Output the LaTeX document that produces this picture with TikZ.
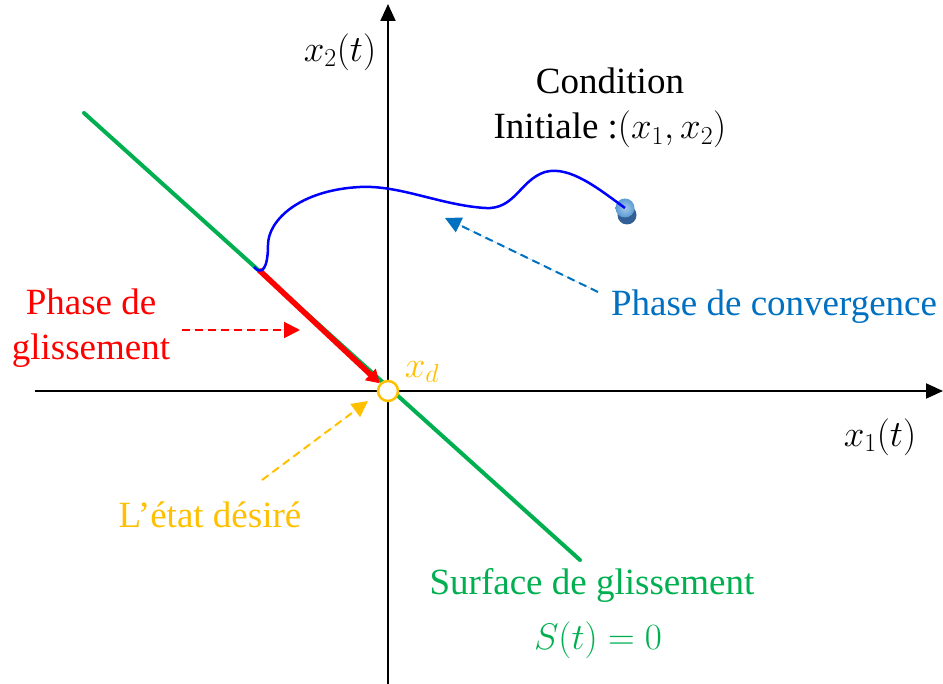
\RequirePackage{fix-cm}
\documentclass[tikz,border=0pt]{standalone}
\usepackage{fontspec}
\setmainfont{Liberation Serif}
\usepackage{tikz}
\usetikzlibrary{arrows.meta,positioning,shadings}
\definecolor{slidered}{RGB}{255,0,0}
\definecolor{surfgreen}{RGB}{0,176,80}
\definecolor{trajblue}{RGB}{0,0,255}
\definecolor{convblue}{RGB}{0,112,192}
\definecolor{goalorange}{RGB}{255,192,0}
\definecolor{ballblue}{RGB}{91,155,213}
\definecolor{ballshade}{RGB}{50,95,150}

\begin{document}
\begin{tikzpicture}[
  x=1pt, y=-1pt,
  axis/.style={line width=2pt, -{Triangle[length=17pt,width=15pt]}},
  surface/.style={draw=surfgreen, line width=4pt},
  slide/.style={draw=slidered, line width=5.5pt, -{Triangle[length=13pt,width=15pt]}},
  traj/.style={draw=trajblue, line width=2.5pt},
  hint/.style={dashed, dash pattern=on 8pt off 5pt, line width=2pt, -{Triangle[length=16pt,width=16pt]}},
  lbl/.style={inner sep=0pt, align=center},
  every node/.style={font=\fontsize{37}{45}\selectfont}
]
\useasboundingbox (0,0) rectangle (943,684);

% axes
\coordinate (xstart) at (35,391);
\coordinate (xend) at (943,391);
\coordinate (ystart) at (388,684);
\coordinate (yend) at (388,4);
\draw[axis] (xstart) -- (xend);
\draw[axis] (ystart) -- (yend);

% sliding surface
\coordinate (surftop) at (84,113);
\coordinate (surfbot) at (580,560);
\draw[surface, line cap=round] (surftop) -- (surfbot);

% desired state
\node[circle, draw=goalorange, fill=white, line width=2.5pt,
      minimum size=20pt, inner sep=0pt] (origin) at (388,391) {};

% sliding phase
\coordinate (slidestart) at (259,270);
\draw[slide] (slidestart) -- (origin);

% initial condition and trajectory
\fill[ballshade] (627,215) circle (9.5);
\node[circle, inner color=ballblue!55!white, outer color=ballblue,
      minimum size=19pt, inner sep=0pt] (init) at (625,208) {};
\coordinate (hook) at (254,267);
\draw[traj] (init.center) .. controls (600,190) and (570,165) .. (545,172)
  .. controls (520,180) and (515,210) .. (485,208)
  .. controls (440,205) and (400,185) .. (360,187)
  .. controls (300,190) and (268,220) .. (268,245)
  .. controls (268,268) and (262,276) .. (hook);

% labels
\node[lbl] (x2lab) at (340,52) {$x_2(t)$};
\node[lbl] (x1lab) at (880,437) {$x_1(t)$};
\node[lbl] (condlab) at (610,108) {Condition\\Initiale :$(x_1,x_2)$};
\node[lbl, text=slidered] (slidelab) at (91,328) {Phase de\\glissement};
\node[lbl, text=convblue] (convlab) at (774,307) {Phase de convergence};
\node[lbl, text=goalorange] (xdlab) at (422,372) {$x_d$};
\node[lbl, text=goalorange] (goallab) at (210,515) {L’état désiré};
\node[lbl, text=surfgreen] (surflab) at (592,585) {Surface de glissement};
\node[lbl, text=surfgreen] (eqlab) at (598,640) {$S(t)=0$};

% pointers
\coordinate (convtip) at (445,218);
\coordinate (convtail) at (598,292);
\coordinate (slidetail) at (182,330);
\coordinate (slidetip) at (300,330);
\coordinate (goaltail) at (262,480);
\coordinate (goaltip) at (368,401);
\draw[hint, draw=convblue, fill=convblue] (convtail) -- (convtip);
\draw[hint, draw=slidered, fill=slidered] (slidetail) -- (slidetip);
\draw[hint, draw=goalorange, fill=goalorange] (goaltail) -- (goaltip);
\end{tikzpicture}
\end{document}
